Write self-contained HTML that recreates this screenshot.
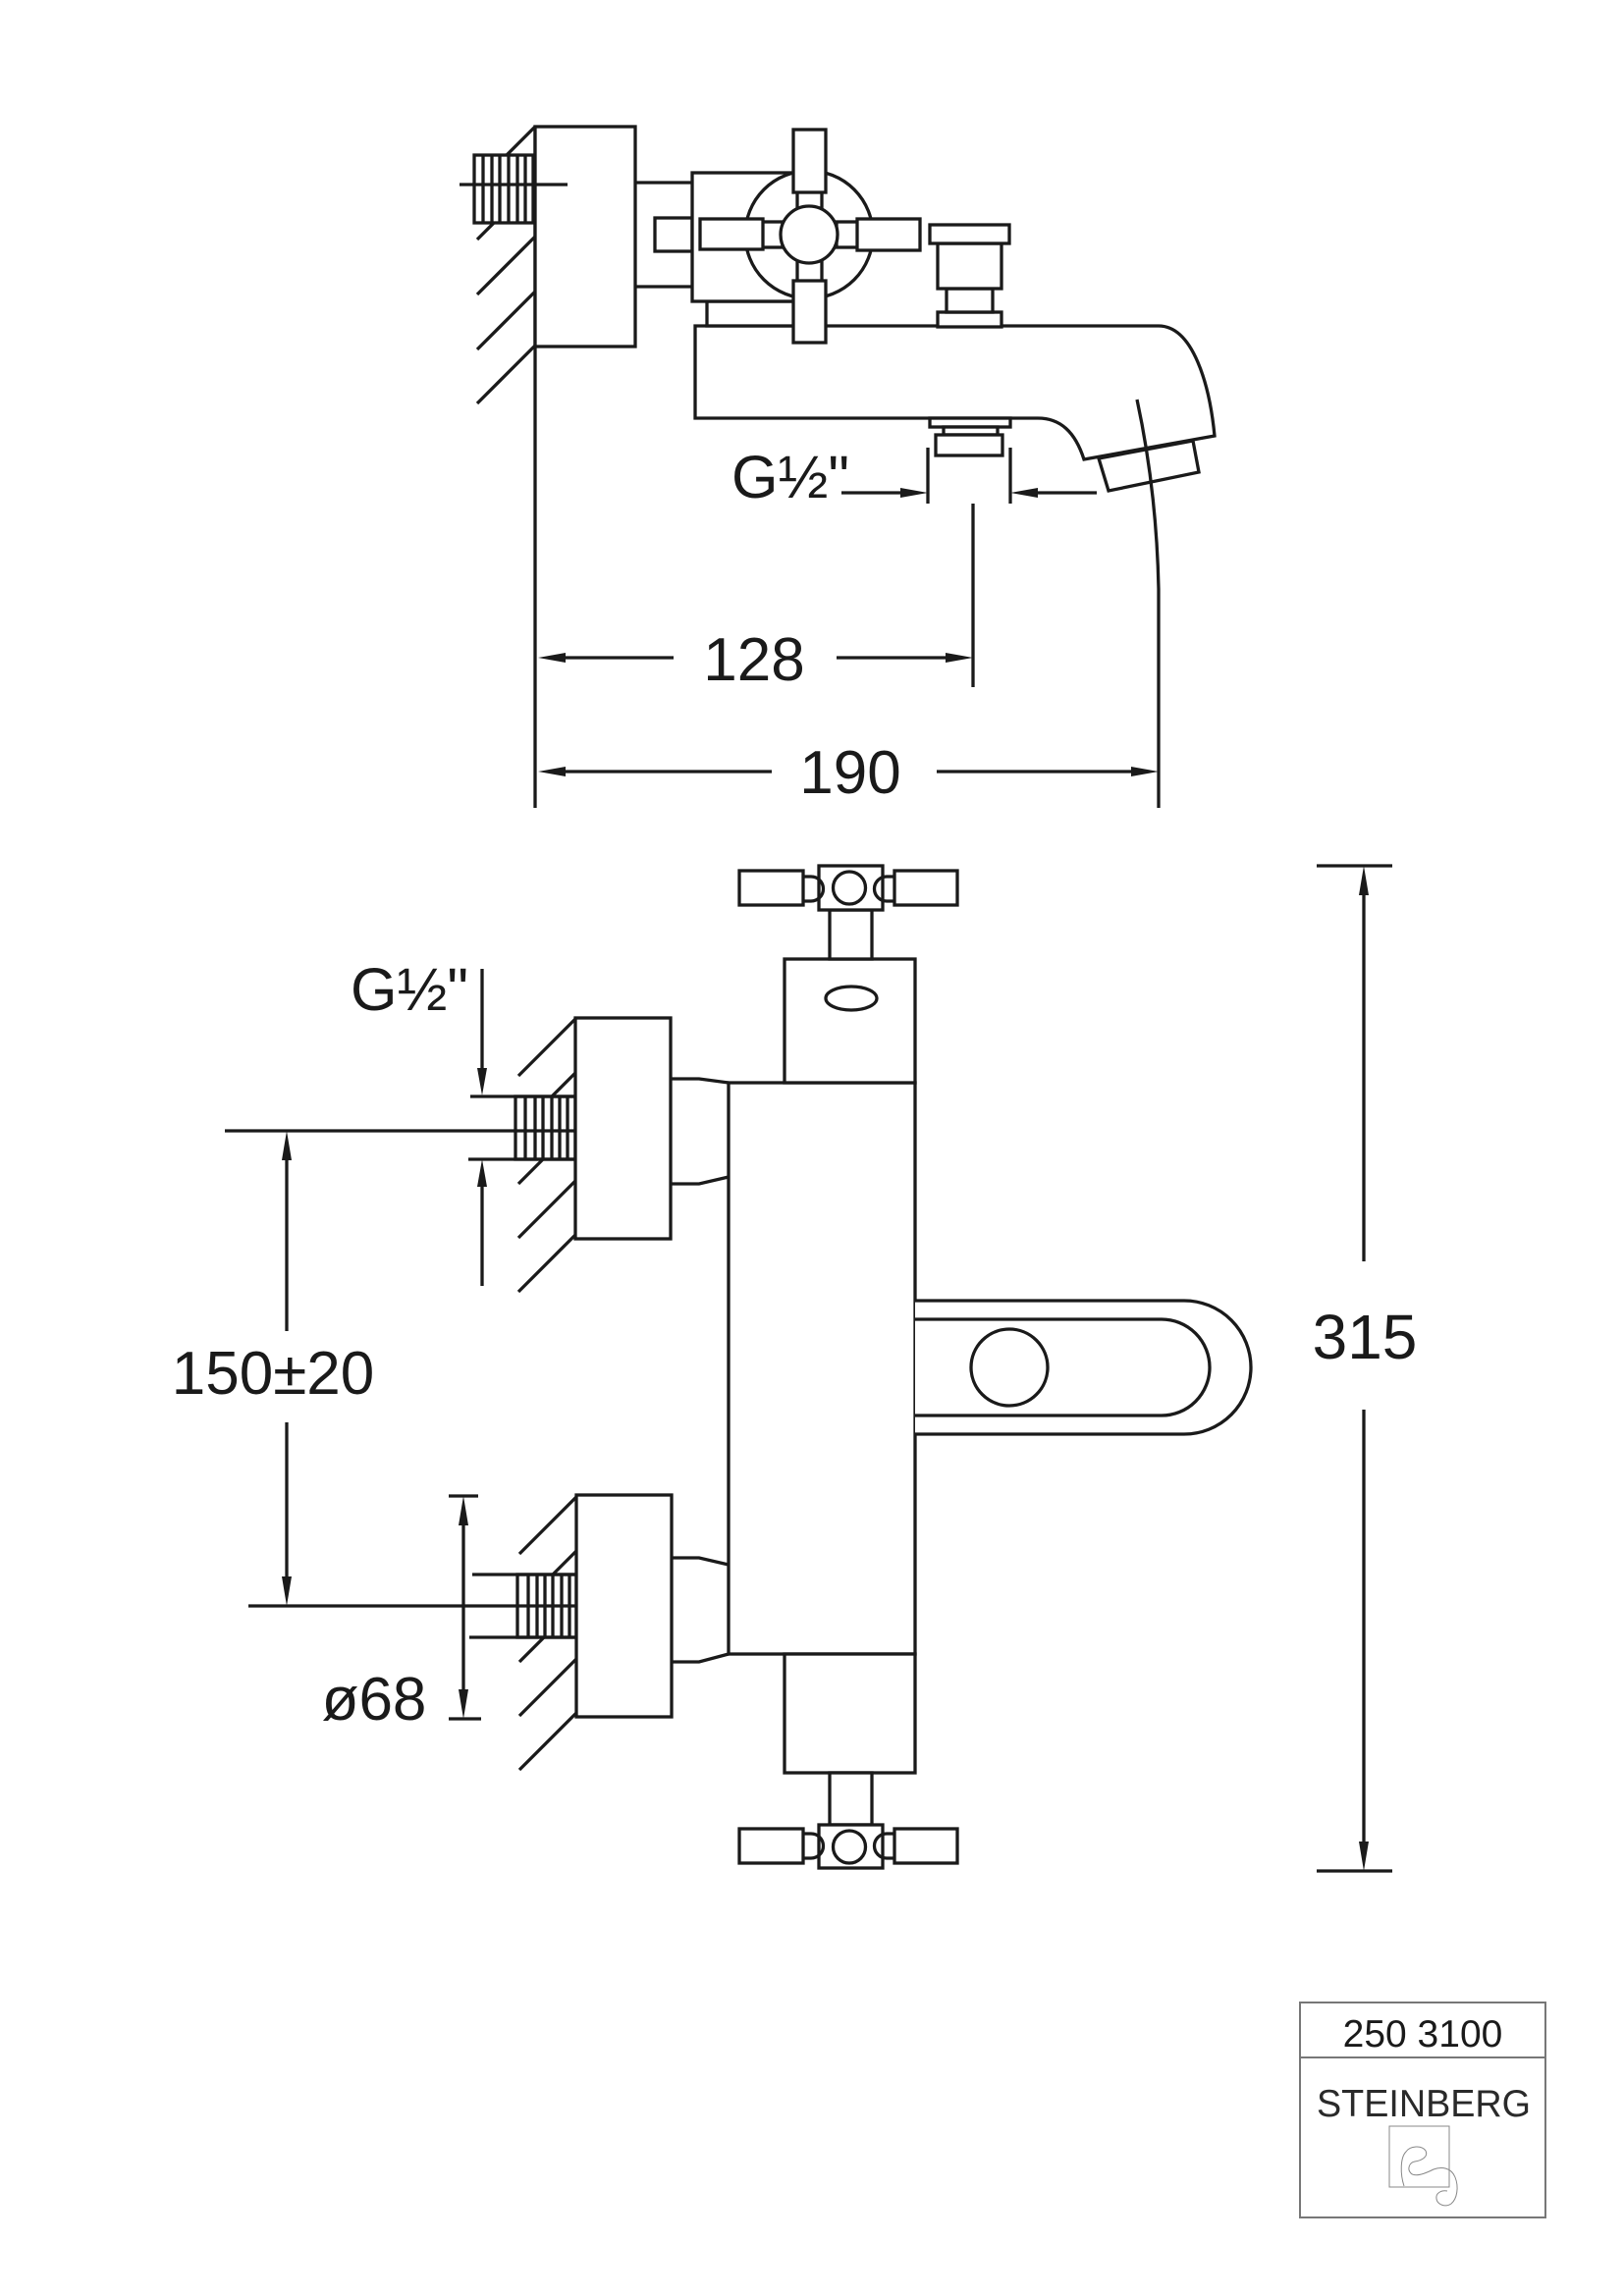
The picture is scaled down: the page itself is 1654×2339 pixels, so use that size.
<!DOCTYPE html>
<html>
<head>
<meta charset="utf-8">
<style>
html,body{margin:0;padding:0;background:#fff;}
svg{display:block;}
text{font-family:"Liberation Sans",Arial,sans-serif;fill:#1a1a1a;}
</style>
</head>
<body>
<svg width="1654" height="2339" viewBox="0 0 1654 2339" xmlns="http://www.w3.org/2000/svg">
<rect width="1654" height="2339" fill="#fff"/>
<g stroke="#1a1a1a" stroke-width="3.3" fill="none" stroke-linejoin="miter">

<!-- ============ TOP VIEW ============ -->
<line x1="545" y1="129" x2="545" y2="823"/>
<line x1="545" y1="129" x2="486" y2="188"/>
<line x1="545" y1="185" x2="486" y2="244"/>
<line x1="545" y1="241" x2="486" y2="300"/>
<line x1="545" y1="297" x2="486" y2="356"/>
<line x1="545" y1="352" x2="486" y2="411"/>
<rect x="483" y="158" width="60" height="69" fill="#fff"/>
<line x1="492" y1="158" x2="492" y2="227"/>
<line x1="501" y1="158" x2="501" y2="227"/>
<line x1="509" y1="158" x2="509" y2="227"/>
<line x1="518" y1="158" x2="518" y2="227"/>
<line x1="527" y1="158" x2="527" y2="227"/>
<line x1="535" y1="158" x2="535" y2="227"/>
<rect x="545" y="129" width="102" height="224" fill="#fff"/>
<line x1="468" y1="188" x2="578" y2="188"/>
<line x1="647" y1="186" x2="705" y2="186"/>
<line x1="647" y1="292" x2="705" y2="292"/>
<rect x="667" y="222" width="38" height="34" fill="#fff"/>
<path d="M708,332 L1180,332 C1215,332 1232,392 1237,444 L1104,468 C1095,440 1080,426 1057,426 L708,426 Z" fill="#fff"/>
<rect x="720" y="307" width="90" height="25" fill="#fff"/>
<rect x="705" y="176" width="119" height="131" fill="#fff"/>
<circle cx="824" cy="239" r="65" fill="#fff"/>
<rect x="812" y="194" width="25" height="18" fill="#fff"/>
<rect x="812" y="266" width="25" height="22" fill="#fff"/>
<rect x="775" y="226" width="22" height="26" fill="#fff"/>
<rect x="852" y="226" width="23" height="26" fill="#fff"/>
<circle cx="824" cy="239" r="29" fill="#fff"/>
<rect x="808" y="132" width="33" height="64" fill="#fff"/>
<rect x="808" y="286" width="33" height="63" fill="#fff"/>
<rect x="713" y="223" width="64" height="31" fill="#fff"/>
<rect x="873" y="223" width="64" height="32" fill="#fff"/>
<rect x="955" y="318" width="65" height="15" fill="#fff"/>
<rect x="964" y="294" width="47" height="24" fill="#fff"/>
<rect x="955" y="248" width="65" height="46" fill="#fff"/>
<rect x="947" y="229" width="81" height="19" fill="#fff"/>
<rect x="947" y="426" width="82" height="9" fill="#fff"/>
<rect x="961" y="435" width="55" height="8" fill="#fff"/>
<rect x="953" y="443" width="68" height="21" fill="#fff"/>
<polygon points="1119,467 1129,500 1221,481 1215,449" fill="#fff"/>
<path d="M1158,407 Q1178,500 1180,600 L1180,823"/>

<line x1="945" y1="456" x2="945" y2="513"/>
<line x1="1029" y1="456" x2="1029" y2="513"/>
<line x1="857" y1="502" x2="920" y2="502"/>
<line x1="1117" y1="502" x2="1054" y2="502"/>
<line x1="991" y1="513" x2="991" y2="700"/>
<line x1="560" y1="670" x2="686" y2="670"/>
<line x1="852" y1="670" x2="970" y2="670"/>
<line x1="560" y1="786" x2="786" y2="786"/>
<line x1="954" y1="786" x2="1160" y2="786"/>

<!-- ============ FRONT VIEW ============ -->
<line x1="586" y1="1038" x2="528" y2="1096"/>
<line x1="586" y1="1093" x2="528" y2="1151"/>
<line x1="586" y1="1148" x2="528" y2="1206"/>
<line x1="586" y1="1203" x2="528" y2="1261"/>
<line x1="586" y1="1258" x2="528" y2="1316"/>
<rect x="525" y="1117" width="61" height="64" fill="#fff"/>
<line x1="535" y1="1117" x2="535" y2="1181"/>
<line x1="545" y1="1117" x2="545" y2="1181"/>
<line x1="553" y1="1117" x2="553" y2="1181"/>
<line x1="562" y1="1117" x2="562" y2="1181"/>
<line x1="570" y1="1117" x2="570" y2="1181"/>
<line x1="578" y1="1117" x2="578" y2="1181"/>
<line x1="479" y1="1117" x2="586" y2="1117"/>
<line x1="477" y1="1181" x2="586" y2="1181"/>
<line x1="229" y1="1152" x2="598" y2="1152"/>
<rect x="586" y="1037" width="97" height="225" fill="#fff"/>
<path d="M683,1099 L712,1099 L742,1103"/>
<path d="M683,1206 L712,1206 L742,1199"/>
<line x1="491" y1="987" x2="491" y2="1095"/>
<line x1="491" y1="1202" x2="491" y2="1310"/>

<line x1="587" y1="1525" x2="529" y2="1583"/>
<line x1="587" y1="1580" x2="529" y2="1638"/>
<line x1="587" y1="1635" x2="529" y2="1693"/>
<line x1="587" y1="1690" x2="529" y2="1748"/>
<line x1="587" y1="1745" x2="529" y2="1803"/>
<rect x="527" y="1604" width="60" height="64" fill="#fff"/>
<line x1="538" y1="1604" x2="538" y2="1668"/>
<line x1="547" y1="1604" x2="547" y2="1668"/>
<line x1="555" y1="1604" x2="555" y2="1668"/>
<line x1="563" y1="1604" x2="563" y2="1668"/>
<line x1="572" y1="1604" x2="572" y2="1668"/>
<line x1="580" y1="1604" x2="580" y2="1668"/>
<line x1="481" y1="1604" x2="587" y2="1604"/>
<line x1="478" y1="1668" x2="587" y2="1668"/>
<line x1="253" y1="1636" x2="620" y2="1636"/>
<rect x="587" y="1523" width="97" height="226" fill="#fff"/>
<path d="M684,1587 L712,1587 L742,1594"/>
<path d="M684,1693 L712,1693 L742,1685"/>
<line x1="457" y1="1524" x2="487" y2="1524"/>
<line x1="457" y1="1751" x2="490" y2="1751"/>
<line x1="472" y1="1545" x2="472" y2="1730"/>

<rect x="742" y="1103" width="190" height="582" fill="#fff"/>
<rect x="799" y="977" width="133" height="126" fill="#fff"/>
<ellipse cx="867" cy="1017" rx="26" ry="12"/>
<rect x="845" y="927" width="43" height="50" fill="#fff"/>
<rect x="834" y="882" width="65" height="45" fill="#fff"/>
<circle cx="865" cy="904.5" r="16.5"/>
<rect x="753" y="887" width="65" height="35" fill="#fff"/>
<rect x="911" y="887" width="64" height="35" fill="#fff"/>
<path d="M818,893 L826,893 A12.5,12.5 0 0 1 826,918 L818,918"/>
<path d="M911,893 L903,893 A12.5,12.5 0 0 0 903,918 L911,918"/>
<rect x="799" y="1685" width="133" height="121" fill="#fff"/>
<rect x="845" y="1806" width="43" height="53" fill="#fff"/>
<rect x="834" y="1859" width="65" height="44" fill="#fff"/>
<circle cx="865" cy="1881.5" r="16.5"/>
<rect x="753" y="1863" width="65" height="35" fill="#fff"/>
<rect x="911" y="1863" width="64" height="35" fill="#fff"/>
<path d="M818,1868 L826,1868 A12.5,12.5 0 0 1 826,1893 L818,1893"/>
<path d="M911,1868 L903,1868 A12.5,12.5 0 0 0 903,1893 L911,1893"/>
<path d="M932,1325 L1206,1325 A68,68 0 0 1 1206,1461 L932,1461" fill="#fff"/>
<path d="M932,1344 L1183,1344 A49,49 0 0 1 1183,1442 L932,1442"/>
<circle cx="1028" cy="1393" r="39"/>

<line x1="292" y1="1172" x2="292" y2="1356"/>
<line x1="292" y1="1449" x2="292" y2="1616"/>
<line x1="1341" y1="882" x2="1418" y2="882"/>
<line x1="1389" y1="900" x2="1389" y2="1285"/>
<line x1="1389" y1="1436" x2="1389" y2="1888"/>
<line x1="1341" y1="1906" x2="1418" y2="1906"/>
</g>

<g fill="#1a1a1a" stroke="none">
<polygon points="945,502 917,497 917,507"/>
<polygon points="1029,502 1057,497 1057,507"/>
<polygon points="548,670 576,665 576,675"/>
<polygon points="991,670 963,665 963,675"/>
<polygon points="548,786 576,781 576,791"/>
<polygon points="1180,786 1152,781 1152,791"/>
<polygon points="491,1116 486,1088 496,1088"/>
<polygon points="491,1181 486,1209 496,1209"/>
<polygon points="472,1524 467,1554 477,1554"/>
<polygon points="472,1751 467,1721 477,1721"/>
<polygon points="292,1152 287,1182 297,1182"/>
<polygon points="292,1636 287,1606 297,1606"/>
<polygon points="1389,882 1384,912 1394,912"/>
<polygon points="1389,1906 1384,1876 1394,1876"/>
</g>

<text x="745" y="507" font-size="61">G½&quot;</text>
<text x="768" y="693" font-size="62" text-anchor="middle">128</text>
<text x="866" y="808" font-size="62" text-anchor="middle">190</text>
<text x="357" y="1029" font-size="61">G½&quot;</text>
<text x="278" y="1420" font-size="62" text-anchor="middle">150±20</text>
<text x="381" y="1752" font-size="62" text-anchor="middle">ø68</text>
<text x="1390" y="1384" font-size="64" text-anchor="middle">315</text>

<g stroke="#777" stroke-width="2" fill="none">
<rect x="1324" y="2040" width="250" height="219"/>
<line x1="1324" y1="2096" x2="1574" y2="2096"/>
</g>
<text x="1449" y="2085" font-size="39" text-anchor="middle">250 3100</text>
<text x="1341" y="2156" font-size="39" textLength="218" lengthAdjust="spacingAndGlyphs" style="fill:#2a2a2a">STEINBERG</text>
<g stroke="#888" stroke-width="1" fill="none">
<rect x="1415" y="2166" width="61" height="62"/>
<path d="M1430,2227 C1426,2215 1426,2198 1432,2192 C1436,2186 1448,2185 1452,2191 C1455,2197 1448,2201 1441,2202 C1435,2203 1433,2210 1437,2214 C1441,2218 1450,2215 1460,2210 C1468,2207 1478,2208 1482,2218 C1486,2228 1484,2240 1478,2245 C1472,2249 1464,2246 1463,2240 C1462,2234 1468,2231 1474,2232"/>
</g>
</svg>
</body>
</html>
